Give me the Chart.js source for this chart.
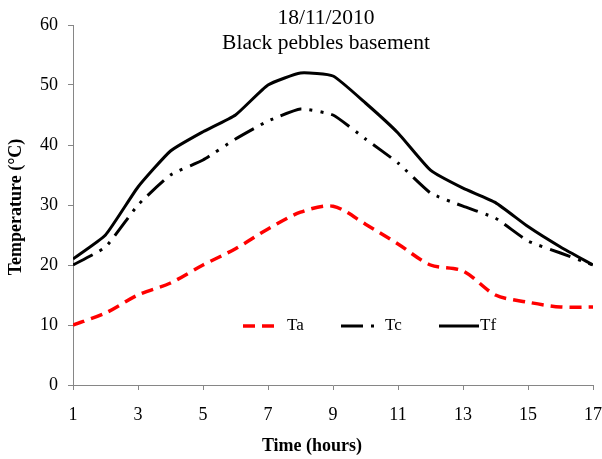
<!DOCTYPE html>
<html>
<head>
<meta charset="utf-8">
<script src="https://cdn.jsdelivr.net/npm/chart.js@4/dist/chart.umd.min.js"></script>
<style>
html,body{margin:0;padding:0;background:#fff;}
#wrap{width:602px;height:459px;position:relative;}
</style>
</head>
<body>
<div id="wrap"><canvas id="c" width="602" height="459"></canvas></div>
<script>
const hours = [1,2,3,4,5,6,7,8,9,10,11,12,13,14,15,16,17];
const Ta = [10,12,15,17,20,22.7,26,28.8,29.8,26.8,23.5,20,19,15,13.8,13,13];
const Tc = [20,23,30,35,37.5,41,44,46,45,41,37,32,29.8,27.8,24,22,20];
const Tf = [21,25,33,39,42.2,45,50,52,51.5,47,42,35.8,32.8,30.4,26.4,23,20];
const xTicks = [1,3,5,7,9,11,13,15,17];
const titleLines = ['18/11/2010','Black pebbles basement'];
const seriesNames = ['Ta','Tc','Tf'];
const xTitle = 'Time (hours)';
const yTitle = 'Temperature (°C)';

const toPts = arr => hours.map((h,i)=>({x:h,y:arr[i]}));
const SERIF = '"Liberation Serif", "Times New Roman", serif';

const styles = [
  {color:'#ff0000', width:3.5, dash:[12,7], tension:0.3},
  {color:'#000000', width:3, dash:[22,8,3,8,3,8], tension:0.15},
  {color:'#000000', width:3, dash:[], tension:0.15}
];
const series = [Ta,Tc,Tf];

const overlay = {
  id:'overlay',
  afterDatasetsDraw(chart){
    const ctx = chart.ctx;
    ctx.save();
    ctx.fillStyle = '#000';
    ctx.textAlign = 'center';
    ctx.textBaseline = 'middle';
    ctx.font = '21.5px ' + SERIF;
    ctx.fillText(titleLines[0], 326, 18);
    ctx.fillText(titleLines[1], 326, 43);

    // axis titles
    ctx.font = 'bold 18px ' + SERIF;
    ctx.fillText(xTitle, 312, 446);

    ctx.save();
    ctx.font = 'bold 18px ' + SERIF;
    ctx.translate(16, 207);
    ctx.rotate(-Math.PI/2);
    ctx.fillText(yTitle, 0, 0);
    ctx.restore();

    // legend
    const items = [
      {x0:243,x1:275,tx:287},
      {x0:341,x1:375,tx:385},
      {x0:439,x1:479,tx:480}
    ];
    const ly = 326;
    ctx.font = '17px ' + SERIF;
    ctx.textAlign = 'left';
    items.forEach((it,i)=>{
      const s = styles[i];
      ctx.beginPath();
      ctx.setLineDash(s.dash);
      ctx.lineWidth = s.width;
      ctx.strokeStyle = s.color;
      ctx.moveTo(it.x0, ly);
      ctx.lineTo(it.x1, ly);
      ctx.stroke();
      ctx.setLineDash([]);
      ctx.fillStyle = '#000';
      ctx.fillText(seriesNames[i], it.tx, ly);
    });
    ctx.restore();
  }
};

new Chart(document.getElementById('c'), {
  type:'line',
  data:{
    datasets: series.map((arr,i)=>({
      label: seriesNames[i],
      data: toPts(arr),
      borderColor: styles[i].color,
      borderWidth: styles[i].width,
      borderDash: styles[i].dash,
      borderCapStyle:'butt',
      tension: styles[i].tension,
      pointRadius:0,
      fill:false
    }))
  },
  options:{
    responsive:false,
    animation:false,
    layout:{padding:{top:25,right:9,left:0,bottom:0}},
    plugins:{legend:{display:false}, title:{display:false}, tooltip:{enabled:false}},
    scales:{
      x:{
        type:'linear', min:1, max:17,
        afterBuildTicks(scale){ scale.ticks = xTicks.map(v=>({value:v})); },
        afterFit(scale){ scale.height = 74; scale.paddingRight = 0; scale.paddingLeft = 0; },
        grid:{drawOnChartArea:false, drawTicks:true, tickLength:5, color:'#868686'},
        border:{color:'#868686', width:1},
        ticks:{color:'#000', font:{family:SERIF, size:18}, padding:14, maxRotation:0, autoSkip:false},
        title:{display:false}
      },
      y:{
        min:0, max:60,
        afterFit(scale){ scale.width = 73; },
        grid:{drawOnChartArea:false, drawTicks:true, tickLength:5, color:'#868686'},
        border:{color:'#868686', width:1},
        ticks:{stepSize:10, color:'#000', font:{family:SERIF, size:18}, padding:10},
        title:{display:false}
      }
    }
  },
  plugins:[overlay]
});
</script>
</body>
</html>
